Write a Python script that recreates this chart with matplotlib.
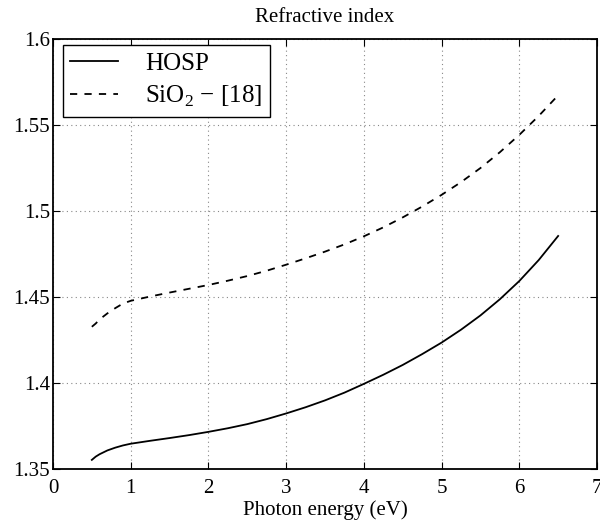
import matplotlib
matplotlib.use('Agg')
import matplotlib.pyplot as plt

plt.rcParams['font.family'] = ['Liberation Serif', 'DejaVu Serif']
plt.rcParams['mathtext.fontset'] = 'custom'
plt.rcParams['mathtext.rm'] = 'Liberation Serif'

# Photon energy (eV) and refractive index samples
energy = [0.5, 0.55, 0.6, 0.7, 0.8, 0.9, 1.0, 1.25, 1.5, 1.75, 2.0, 2.25, 2.5, 2.75,
          3.0, 3.25, 3.5, 3.75, 4.0, 4.25, 4.5, 4.75, 5.0, 5.25, 5.5, 5.75,
          6.0, 6.25, 6.5]
n_hosp = [1.3553, 1.3572, 1.3586, 1.3608, 1.3624, 1.3637, 1.3647, 1.3664, 1.3680,
          1.3697, 1.3716, 1.3737, 1.3761, 1.3790, 1.3823, 1.3859, 1.3899, 1.3944,
          1.3995, 1.4048, 1.4105, 1.4168, 1.4235, 1.4310, 1.4393, 1.4487, 1.4593,
          1.4715, 1.4855]
n_sio2 = [1.4327, 1.4346, 1.4370, 1.4405, 1.4435, 1.4462, 1.4478, 1.4503, 1.4526,
          1.4548, 1.4570, 1.4595, 1.4622, 1.4653, 1.4688, 1.4725, 1.4764, 1.4806,
          1.4853, 1.4905, 1.4963, 1.5026, 1.5094, 1.5168, 1.5250, 1.5342, 1.5443,
          1.5553, 1.5673]

xticks = [0, 1, 2, 3, 4, 5, 6, 7]
yticks = [1.35, 1.4, 1.45, 1.5, 1.55, 1.6]
ytick_labels = ['1.35', '1.4', '1.45', '1.5', '1.55', '1.6']

fig = plt.figure(figsize=(6, 5.21), dpi=100)
ax = fig.add_axes([0.0883, 0.0998, 0.9067, 0.8252])

ax.plot(energy, n_hosp, color='k', lw=1.3, label='HOSP')
ax.plot(energy, n_sio2, color='k', lw=1.3, ls=(0, (4, 4)), label=r'SiO$_2$ $-$ [18]')

ax.set_xlim(0, 7)
ax.set_ylim(1.35, 1.6)
ax.set_xticks(xticks)
ax.set_yticks(yticks)
ax.set_yticklabels(ytick_labels)
ax.tick_params(direction='in', top=True, right=True, labelsize=15, length=5)
ax.tick_params(axis='x', pad=7)
ax.tick_params(axis='y', pad=2)
ax.grid(True, color='#888888', linestyle=(0, (1, 3)), linewidth=0.8)
for s in ax.spines.values():
    s.set_linewidth(1.3)

ax.set_title('Refractive index', fontsize=15, pad=12)
ax.set_xlabel('Photon energy (eV)', fontsize=15, labelpad=2)

leg = ax.legend(loc='upper left', bbox_to_anchor=(0.018, 0.986), borderaxespad=0,
                fontsize=18, fancybox=False, framealpha=1, edgecolor='k',
                handlelength=1.9, handletextpad=1.1, labelspacing=0.35, borderpad=0.3)
leg.get_frame().set_linewidth(1.0)

fig.savefig('out.png', dpi=100)
